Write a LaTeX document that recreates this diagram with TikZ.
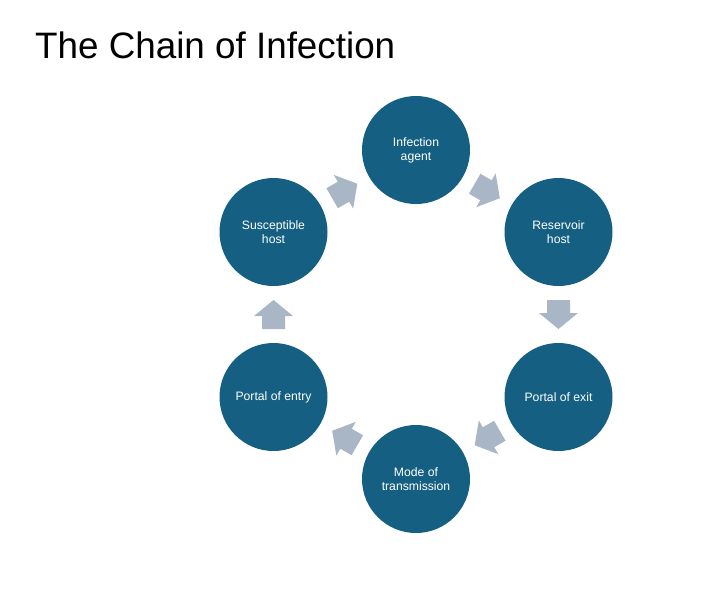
\documentclass[tikz,border=0pt]{standalone}
\usepackage{fontspec}
\setmainfont{Liberation Sans}
\usepackage{xcolor}
\definecolor{chain-blue}{HTML}{156082}
\definecolor{chain-grey}{HTML}{A9B6C5}

\begin{document}
\begin{tikzpicture}[x=1pt, y=-1pt,
    stage/.style={circle, fill=chain-blue, text=white, minimum size=108pt,
      inner sep=0pt, align=center, font=\fontsize{12.2}{14}\selectfont},
    link/.pic={\fill[chain-grey] (-14.5,-11.5) -- (-1.5,-11.5) -- (-1.5,-19.5)
      -- (14.5,0) -- (-1.5,19.5) -- (-1.5,11.5) -- (-14.5,11.5) -- cycle;}]
  \useasboundingbox (0,0) rectangle (707,611);
  \node[anchor=base west, inner sep=0pt, font=\fontsize{36.8}{40}\selectfont] (title) at (35,58)
    {The Chain of Infection};
  % the six links of the chain
  \node[stage] (agent) at (416,150) {Infection\\agent};
  \node[stage] (reservoir) at (558.5,232) {Reservoir\\host};
  \node[stage] (exit) at (558.5,397) {Portal of exit};
  \node[stage] (mode) at (416,479) {Mode of\\transmission};
  \node[stage] (entry) at (273.5,397) {Portal of entry};
  \node[stage] (host) at (273.5,232) {Susceptible\\host};
  % block arrows between them
  \path (agent) -- (reservoir) pic[pos=.5, sloped, allow upside down] {link};
  \path (reservoir) -- (exit) pic[pos=.5, sloped, allow upside down] {link};
  \path (exit) -- (mode) pic[pos=.5, sloped, allow upside down] {link};
  \path (mode) -- (entry) pic[pos=.5, sloped, allow upside down] {link};
  \path (entry) -- (host) pic[pos=.5, sloped, allow upside down] {link};
  \path (host) -- (agent) pic[pos=.5, sloped, allow upside down] {link};
\end{tikzpicture}
\end{document}
